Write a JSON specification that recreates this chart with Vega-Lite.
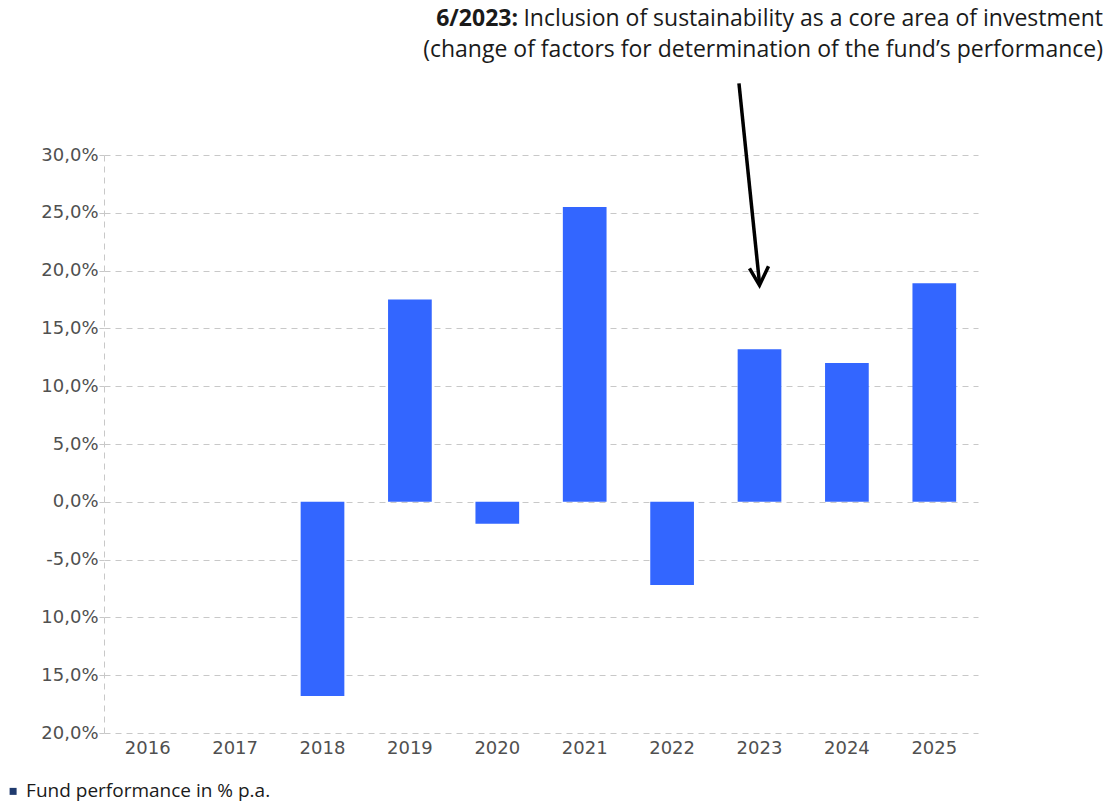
{
  "$schema": "https://vega.github.io/schema/vega-lite/v6.json",
  "autosize": "none",
  "width": 874,
  "height": 578,
  "padding": {"left": 104, "top": 155, "right": 137, "bottom": 72},
  "background": "#ffffff",
  "config": {"view": {"stroke": null}},
  "datasets": {
    "perf": [
      {"year": "2016", "value": null},
      {"year": "2017", "value": null},
      {"year": "2018", "value": -16.8},
      {"year": "2019", "value": 17.5},
      {"year": "2020", "value": -1.9},
      {"year": "2021", "value": 25.5},
      {"year": "2022", "value": -7.2},
      {"year": "2023", "value": 13.2},
      {"year": "2024", "value": 12.0},
      {"year": "2025", "value": 18.9}
    ],
    "arrow": [
      {"px": 7.265, "py": 36.2, "px2": 7.5, "py2": 18.9}
    ],
    "head": [
      {"px": 7.5, "py": 18.73}
    ],
    "note": [
      {"px": 11.43, "py": 41.8, "label": "Inclusion of sustainability as a core area of investment"},
      {"px": 11.43, "py": 39.05, "label": "(change of factors for determination of the fund’s performance)"}
    ],
    "noteBold": [
      {"px": 4.737, "py": 41.8, "label": "6/2023:"}
    ],
    "legend": [
      {"px": -1.04, "py": -25.05, "label": "Fund performance in % p.a."}
    ]
  },
  "resolve": {"scale": {"x": "independent"}},
  "layer": [
    {
      "data": {"name": "perf"},
      "mark": {"type": "bar", "color": "#3366ff"},
      "encoding": {
        "x": {
          "field": "year", "type": "ordinal",
          "scale": {"domain": ["2016","2017","2018","2019","2020","2021","2022","2023","2024","2025"], "paddingInner": 0.5, "paddingOuter": 0.25},
          "axis": {"title": null, "labelAngle": 0, "domain": false, "ticks": false, "labelFont": "DejaVu Sans", "labelFontSize": 18, "labelColor": "#505050", "labelPadding": 6}
        },
        "y": {
          "field": "value", "type": "quantitative",
          "scale": {"domain": [-20, 30], "nice": false, "zero": false},
          "axis": {
            "title": null,
            "values": [-20, -15, -10, -5, 0, 5, 10, 15, 20, 25, 30],
            "labelExpr": "(datum.value == -5 ? '-' : '') + replace(format(abs(datum.value), '.1f'), '.', ',') + '%'",
            "labelFont": "DejaVu Sans", "labelFontSize": 18, "labelColor": "#505050",
            "labelPadding": 1,
            "domainColor": "#c8c8c8", "domainDash": [6, 5], "domainWidth": 1,
            "tickColor": "#c8c8c8", "tickSize": 5,
            "grid": true, "gridColor": "#c8c8c8", "gridDash": [6, 5], "gridWidth": 1
          }
        }
      }
    },
    {
      "mark": {"type": "rule", "color": "#000000", "strokeWidth": 1.5},
      "encoding": {"y": {"datum": 0, "type": "quantitative"}}
    },
    {
      "data": {"name": "arrow"},
      "mark": {"type": "rule", "color": "#000000", "strokeWidth": 3.5},
      "encoding": {
        "x": {"field": "px", "type": "quantitative", "scale": {"domain": [0, 10], "nice": false, "zero": false}, "axis": null},
        "y": {"field": "py", "type": "quantitative"},
        "x2": {"field": "px2"},
        "y2": {"field": "py2"}
      }
    },
    {
      "data": {"name": "head"},
      "mark": {"type": "point", "shape": "M-1,-1.7L0,0L0.9,-1.9", "filled": false, "stroke": "#000000", "strokeWidth": 3.5, "size": 400, "opacity": 1},
      "encoding": {
        "x": {"field": "px", "type": "quantitative", "scale": {"domain": [0, 10], "nice": false, "zero": false}, "axis": null},
        "y": {"field": "py", "type": "quantitative"}
      }
    },
    {
      "data": {"name": "note"},
      "mark": {"type": "text", "align": "right", "baseline": "middle", "font": "Open Sans", "fontSize": 23, "color": "#1a1a1a"},
      "encoding": {
        "x": {"field": "px", "type": "quantitative", "scale": {"domain": [0, 10], "nice": false, "zero": false}, "axis": null},
        "y": {"field": "py", "type": "quantitative"},
        "text": {"field": "label"}
      }
    },
    {
      "data": {"name": "noteBold"},
      "mark": {"type": "text", "align": "right", "baseline": "middle", "font": "Open Sans", "fontSize": 23, "fontWeight": "bold", "color": "#1a1a1a"},
      "encoding": {
        "x": {"field": "px", "type": "quantitative", "scale": {"domain": [0, 10], "nice": false, "zero": false}, "axis": null},
        "y": {"field": "py", "type": "quantitative"},
        "text": {"field": "label"}
      }
    },
    {
      "data": {"name": "legend"},
      "mark": {"type": "point", "shape": "square", "filled": true, "color": "#1f3a6e", "size": 49, "opacity": 1},
      "encoding": {
        "x": {"field": "px", "type": "quantitative", "scale": {"domain": [0, 10], "nice": false, "zero": false}, "axis": null},
        "y": {"field": "py", "type": "quantitative"}
      }
    },
    {
      "data": {"name": "legend"},
      "mark": {"type": "text", "align": "left", "baseline": "middle", "font": "Open Sans", "fontSize": 19, "color": "#1a1a1a", "dx": 13},
      "encoding": {
        "x": {"field": "px", "type": "quantitative", "scale": {"domain": [0, 10], "nice": false, "zero": false}, "axis": null},
        "y": {"field": "py", "type": "quantitative"},
        "text": {"field": "label"}
      }
    }
  ]
}
